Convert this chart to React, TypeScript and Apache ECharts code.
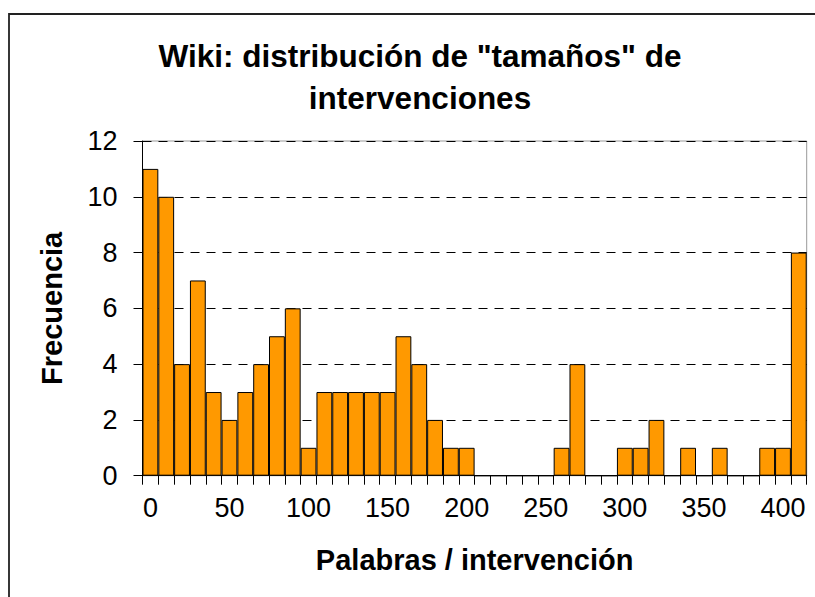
import React, { useEffect, useRef } from "react";
import * as echarts from "echarts";

const binLabels: string[] = [
  "0", "10", "20", "30", "40", "50", "60", "70", "80", "90",
  "100", "110", "120", "130", "140", "150", "160", "170", "180", "190",
  "200", "210", "220", "230", "240", "250", "260", "270", "280", "290",
  "300", "310", "320", "330", "340", "350", "360", "370", "380", "390",
  "400", "y mayor...",
];

const frequencies: number[] = [
  11, 10, 4, 7, 3, 2, 3, 4, 5, 6,
  1, 3, 3, 3, 3, 3, 5, 4, 2, 1,
  1, 0, 0, 0, 0, 0, 1, 4, 0, 0,
  1, 1, 2, 0, 1, 0, 1, 0, 0, 1,
  1, 8,
];

const titleLines: string[] = ['Wiki: distribución de "tamaños" de', "intervenciones"];
const xAxisTitle = "Palabras / intervención";
const yAxisTitle = "Frecuencia";

const FONT = "'Liberation Sans', Arial, Helvetica, sans-serif";

export default function App() {
  const ref = useRef<HTMLDivElement>(null);

  useEffect(() => {
    document.body.style.margin = "0";
    if (!ref.current) return;
    const chart = echarts.init(ref.current, undefined, { renderer: "svg" });
    chart.setOption({
      animation: false,
      backgroundColor: "#ffffff",
      title: {
        text: titleLines.join("\n"),
        left: 415,
        top: 30,
        textAlign: "center",
        textStyle: {
          fontFamily: FONT,
          fontSize: 31.5,
          fontWeight: "bold",
          color: "#000",
          lineHeight: 42,
        },
      },
      graphic: [
        {
          type: "rect",
          shape: { x: 9, y: 14, width: 900, height: 700 },
          style: { fill: "none", stroke: "#222", lineWidth: 1.8 },
          silent: true,
          z: -10,
        },
      ],
      grid: {
        left: 142.5,
        right: 8.3,
        top: 141,
        bottom: 121.3,
        show: true,
        borderColor: "#999",
        borderWidth: 1,
        backgroundColor: "transparent",
      },
      xAxis: {
        type: "category",
        data: binLabels,
        boundaryGap: true,
        name: xAxisTitle,
        nameLocation: "middle",
        nameGap: 70,
        nameTextStyle: {
          fontFamily: FONT,
          fontSize: 29,
          fontWeight: "bold",
          color: "#000",
        },
        axisLine: { show: true, lineStyle: { color: "#000", width: 1 } },
        axisTick: {
          show: true,
          interval: 0,
          inside: false,
          length: 9,
          lineStyle: { color: "#000", width: 1 },
        },
        axisLabel: {
          interval: 4,
          margin: 19,
          fontFamily: FONT,
          fontSize: 27,
          color: "#000",
        },
        splitLine: { show: false },
      },
      yAxis: {
        type: "value",
        min: 0,
        max: 12,
        interval: 2,
        name: yAxisTitle,
        nameLocation: "middle",
        nameRotate: 90,
        nameGap: 76,
        nameTextStyle: {
          fontFamily: FONT,
          fontSize: 29,
          fontWeight: "bold",
          color: "#000",
        },
        axisLine: { show: true, lineStyle: { color: "#000", width: 1 } },
        axisTick: {
          show: true,
          inside: false,
          length: 9,
          lineStyle: { color: "#000", width: 1 },
        },
        axisLabel: {
          margin: 25,
          fontFamily: FONT,
          fontSize: 27,
          color: "#000",
        },
        splitLine: {
          show: true,
          lineStyle: { color: "#000", width: 1, type: [9, 7] },
        },
      },
      series: [
        {
          type: "bar",
          data: frequencies,
          barCategoryGap: "0%",
          itemStyle: {
            color: "#FF9900",
            borderColor: "#000",
            borderWidth: 1,
          },
        },
      ],
    });
    return () => {
      chart.dispose();
    };
  }, []);

  return <div ref={ref} style={{ width: 815, height: 597 }} />;
}
